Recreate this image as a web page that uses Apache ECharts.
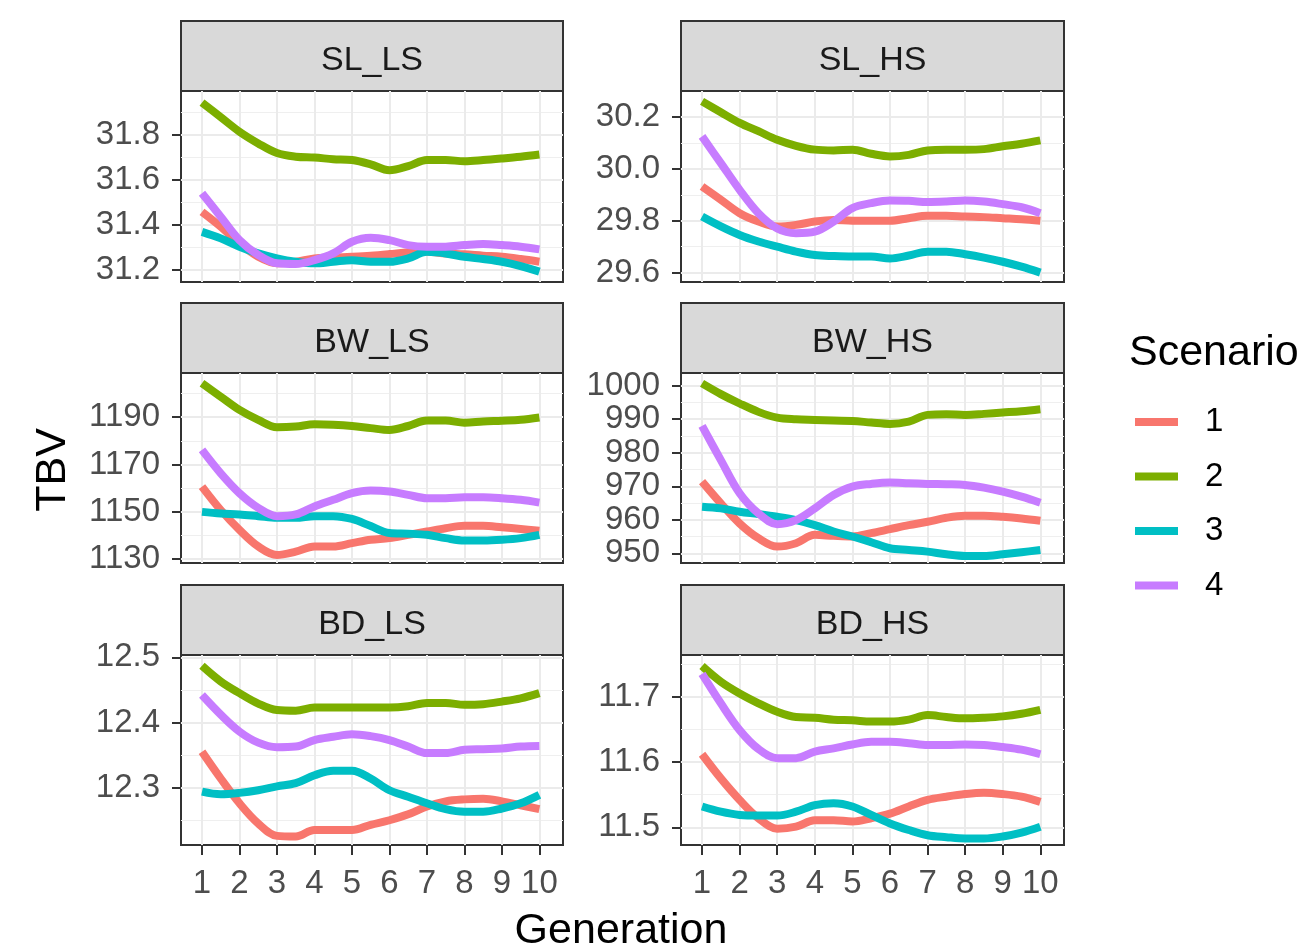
<!DOCTYPE html>
<html>
<head>
<meta charset="utf-8">
<script src="https://cdn.jsdelivr.net/npm/echarts@6/dist/echarts.min.js"></script>
<style>html,body{margin:0;padding:0;background:#fff;}#chart{width:1305px;height:949px;}</style>
</head>
<body>
<div id="chart"></div>
<script>
// ---------- data ----------
const gen = [1, 1.5, 2, 2.5, 3, 3.5, 4, 4.5, 5, 5.5, 6, 6.5, 7, 7.5, 8, 8.5, 9, 9.5, 10];
const scenarios = ['1', '2', '3', '4'];
const xTicks = [1, 2, 3, 4, 5, 6, 7, 8, 9, 10];

// SL_LS
const slls_1 = [31.459,31.393,31.319,31.259,31.230,31.237,31.252,31.255,31.259,31.264,31.271,31.279,31.281,31.274,31.270,31.264,31.259,31.249,31.237];
const slls_2 = [31.944,31.880,31.815,31.763,31.720,31.704,31.700,31.693,31.689,31.670,31.644,31.662,31.689,31.689,31.684,31.689,31.696,31.704,31.714];
const slls_3 = [31.370,31.341,31.304,31.274,31.252,31.237,31.230,31.237,31.244,31.237,31.237,31.252,31.281,31.274,31.259,31.249,31.237,31.218,31.193];
const slls_4 = [31.541,31.437,31.333,31.267,31.230,31.227,31.244,31.274,31.326,31.344,31.333,31.311,31.304,31.304,31.311,31.316,31.311,31.304,31.292];
const slls_ticks = [31.2, 31.4, 31.6, 31.8];
const slls_minor = [31.3, 31.5, 31.7, 31.9];

// SL_HS
const slhs_1 = [29.932,29.881,29.829,29.797,29.778,29.784,29.797,29.803,29.800,29.800,29.800,29.810,29.819,29.819,29.816,29.814,29.810,29.806,29.800];
const slhs_2 = [30.260,30.218,30.177,30.145,30.112,30.089,30.074,30.071,30.074,30.058,30.048,30.054,30.071,30.074,30.074,30.076,30.087,30.097,30.110];
const slhs_3 = [29.816,29.778,29.745,29.720,29.700,29.681,29.668,29.664,29.662,29.662,29.655,29.666,29.681,29.681,29.671,29.658,29.642,29.623,29.600];
const slhs_4 = [30.125,30.022,29.919,29.829,29.770,29.752,29.758,29.797,29.849,29.868,29.878,29.877,29.872,29.874,29.878,29.874,29.864,29.852,29.829];
const slhs_ticks = [29.6, 29.8, 30.0, 30.2];
const slhs_minor = [29.7, 29.9, 30.1];

// BW_LS
const bwls_1 = [1160.7,1150.8,1142.4,1135.4,1131.8,1133.2,1135.4,1135.4,1136.8,1138.2,1138.9,1140.3,1141.7,1143.1,1144.1,1144.1,1143.5,1142.8,1142.0];
const bwls_2 = [1204.4,1198.7,1193.1,1188.9,1185.8,1186.1,1187.0,1186.8,1186.3,1185.4,1184.6,1186.3,1188.6,1188.6,1187.7,1188.2,1188.5,1188.9,1189.9];
const bwls_3 = [1150.0,1149.3,1148.9,1148.2,1147.5,1147.5,1148.2,1148.2,1147.0,1144.0,1141.1,1140.8,1140.3,1138.9,1137.9,1137.9,1138.2,1138.9,1140.3];
const bwls_4 = [1176.2,1166.3,1157.9,1151.7,1148.2,1148.9,1152.3,1155.1,1157.9,1159.0,1158.6,1157.2,1155.8,1155.8,1156.2,1156.2,1155.8,1155.1,1153.9];
const bwls_ticks = [1130, 1150, 1170, 1190];
const bwls_minor = [1140, 1160, 1180, 1200];

// BW_HS
const bwhs_1 = [971.4,964.9,958.9,954.5,952.0,953.0,955.5,955.2,955.0,956.0,957.2,958.4,959.4,960.6,961.2,961.2,960.9,960.4,959.7];
const bwhs_2 = [1000.7,997.5,994.7,992.2,990.5,990.0,989.8,989.6,989.5,989.0,988.6,989.3,991.3,991.5,991.3,991.6,992.0,992.4,993.0];
const bwhs_3 = [963.9,963.4,962.4,961.7,960.9,959.9,958.4,956.5,955.0,953.3,951.5,951.0,950.5,949.7,949.2,949.2,949.7,950.3,951.0];
const bwhs_4 = [988.0,977.8,967.9,961.9,958.7,959.9,963.4,967.4,969.9,970.7,971.1,970.9,970.7,970.6,970.4,969.6,968.4,966.9,965.1];
const bwhs_ticks = [950, 960, 970, 980, 990, 1000];
const bwhs_minor = [955, 965, 975, 985, 995];

// BD_LS
const bdls_1 = [12.355,12.314,12.276,12.245,12.226,12.225,12.235,12.235,12.235,12.243,12.250,12.259,12.271,12.279,12.282,12.283,12.279,12.273,12.267];
const bdls_2 = [12.487,12.463,12.445,12.429,12.419,12.418,12.423,12.423,12.423,12.423,12.423,12.425,12.430,12.430,12.427,12.428,12.432,12.437,12.445];
const bdls_3 = [12.294,12.290,12.292,12.296,12.302,12.307,12.319,12.326,12.326,12.314,12.296,12.286,12.276,12.267,12.263,12.263,12.268,12.276,12.289];
const bdls_4 = [12.442,12.412,12.386,12.369,12.362,12.363,12.373,12.378,12.382,12.379,12.373,12.363,12.353,12.353,12.358,12.359,12.360,12.363,12.364];
const bdls_ticks = [12.3, 12.4, 12.5];
const bdls_minor = [12.25, 12.35, 12.45];

// BD_HS
const bdhs_1 = [11.612,11.575,11.542,11.514,11.498,11.501,11.511,11.511,11.509,11.514,11.521,11.532,11.542,11.547,11.551,11.553,11.551,11.547,11.539];
const bdhs_2 = [11.747,11.723,11.705,11.690,11.677,11.669,11.668,11.665,11.664,11.662,11.662,11.665,11.672,11.669,11.667,11.668,11.670,11.674,11.680];
const bdhs_3 = [11.532,11.524,11.519,11.518,11.518,11.524,11.534,11.537,11.532,11.519,11.506,11.496,11.488,11.485,11.483,11.483,11.486,11.492,11.501];
const bdhs_4 = [11.735,11.690,11.649,11.620,11.606,11.606,11.616,11.621,11.627,11.631,11.631,11.629,11.626,11.626,11.627,11.626,11.623,11.619,11.612];
const bdhs_ticks = [11.5, 11.6, 11.7];
const bdhs_minor = [11.55, 11.65, 11.75];

const colors = ['#F8766D', '#7CAE00', '#00BFC4', '#C77CFF'];

// ---------- panel definitions ----------
const panels = [
  { name: 'SL_LS', s: [slls_1, slls_2, slls_3, slls_4], ticks: slls_ticks, minor: slls_minor, min: 31.147, max: 31.996, dec: 1 },
  { name: 'SL_HS', s: [slhs_1, slhs_2, slhs_3, slhs_4], ticks: slhs_ticks, minor: slhs_minor, min: 29.564, max: 30.300, dec: 1 },
  { name: 'BW_LS', s: [bwls_1, bwls_2, bwls_3, bwls_4], ticks: bwls_ticks, minor: bwls_minor, min: 1128.4, max: 1208.7, dec: 0 },
  { name: 'BW_HS', s: [bwhs_1, bwhs_2, bwhs_3, bwhs_4], ticks: bwhs_ticks, minor: bwhs_minor, min: 947.1, max: 1003.8, dec: 0 },
  { name: 'BD_LS', s: [bdls_1, bdls_2, bdls_3, bdls_4], ticks: bdls_ticks, minor: bdls_minor, min: 12.212, max: 12.5035, dec: 1 },
  { name: 'BD_HS', s: [bdhs_1, bdhs_2, bdhs_3, bdhs_4], ticks: bdhs_ticks, minor: bdhs_minor, min: 11.473, max: 11.764, dec: 1 }
];

const colLeft = [181, 681];
const colWidth = [382, 383];
const rowTop = [91, 373, 655];
const rowHeight = [191, 190, 190];
const stripH = 70;
const FONT = '"Liberation Sans", Arial, sans-serif';
const SMALL = 33;
const BIG = 43;

const grids = [], xAxes = [], yAxes = [], series = [], graphics = [];

panels.forEach((p, i) => {
  const r = Math.floor(i / 2), c = i % 2;
  const bottomRow = r === 2;
  grids.push({
    left: colLeft[c], top: rowTop[r], width: colWidth[c], height: rowHeight[r],
    show: true, borderColor: '#333333', borderWidth: 2, backgroundColor: '#ffffff'
  });
  xAxes.push({
    type: 'value', gridIndex: i, min: 0.44, max: 10.63,
    axisLine: { show: false },
    axisTick: { show: bottomRow, customValues: xTicks, length: 10, lineStyle: { color: '#333333', width: 2 } },
    axisLabel: { show: bottomRow, customValues: xTicks, margin: 22, fontSize: SMALL, color: '#4D4D4D', fontFamily: FONT },
    splitLine: { show: true, lineStyle: { color: '#EBEBEB', width: 2 } }
  });
  // main y axis (labels, ticks, major grid)
  yAxes.push({
    type: 'value', gridIndex: i, min: p.min, max: p.max, position: 'left',
    axisLine: { show: false },
    axisTick: { show: true, customValues: p.ticks, length: 9, lineStyle: { color: '#333333', width: 2 } },
    axisLabel: { show: true, customValues: p.ticks, margin: 21, fontSize: SMALL, color: '#4D4D4D', fontFamily: FONT,
      formatter: v => Number(v).toFixed(p.dec) },
    splitLine: { show: true, lineStyle: { color: '#EBEBEB', width: 2 } }
  });
  // minor grid y axis
  yAxes.push({
    type: 'value', gridIndex: i, min: p.min, max: p.max, position: 'left',
    axisLine: { show: false },
    axisTick: { show: false, customValues: p.minor },
    axisLabel: { show: false, customValues: p.minor },
    splitLine: { show: true, lineStyle: { color: '#EFEFEF', width: 1 } }
  });
  p.s.forEach((vals, k) => {
    series.push({
      name: scenarios[k], type: 'line', xAxisIndex: i, yAxisIndex: 2 * i,
      data: gen.map((g, j) => [g, vals[j]]),
      smooth: 0.35, showSymbol: false, symbol: 'none',
      lineStyle: { color: colors[k], width: 8, cap: 'butt', join: 'round' },
      itemStyle: { color: colors[k] },
      z: 3
    });
  });
  // strip
  graphics.push({
    type: 'rect', shape: { x: colLeft[c], y: rowTop[r] - stripH, width: colWidth[c], height: stripH },
    style: { fill: '#D9D9D9', stroke: '#333333', lineWidth: 2 }
  });
  graphics.push({
    type: 'text', x: colLeft[c] + colWidth[c] / 2, y: rowTop[r] - stripH / 2 + 5,
    style: { text: p.name, fontSize: 34, fill: '#1A1A1A', fontFamily: FONT, align: 'center', verticalAlign: 'middle' }
  });
});

graphics.push({
  type: 'text', x: 621, y: 931,
  style: { text: 'Generation', fontSize: BIG, fill: '#000000', fontFamily: FONT, align: 'center', verticalAlign: 'middle' }
});
graphics.push({
  type: 'text', x: 53, y: 470, rotation: Math.PI / 2,
  style: { text: 'TBV', fontSize: BIG, fill: '#000000', fontFamily: FONT, align: 'center', verticalAlign: 'middle' }
});
graphics.push({
  type: 'text', x: 1129, y: 353,
  style: { text: 'Scenario', fontSize: BIG, fill: '#000000', fontFamily: FONT, align: 'left', verticalAlign: 'middle' }
});

const option = {
  animation: false,
  backgroundColor: '#ffffff',
  grid: grids,
  xAxis: xAxes,
  yAxis: yAxes,
  series: series,
  legend: {
    data: scenarios, orient: 'vertical', left: 1135, top: 403, padding: 0,
    icon: 'rect', itemWidth: 43, itemHeight: 8, itemGap: 16.5,
    textStyle: { fontSize: SMALL, color: '#000000', fontFamily: FONT, lineHeight: 34, padding: [4, 0, 0, 22] }
  },
  graphic: graphics
};

const chart = echarts.init(document.getElementById('chart'), null, { renderer: 'canvas' });
chart.setOption(option);
</script>
</body>
</html>
